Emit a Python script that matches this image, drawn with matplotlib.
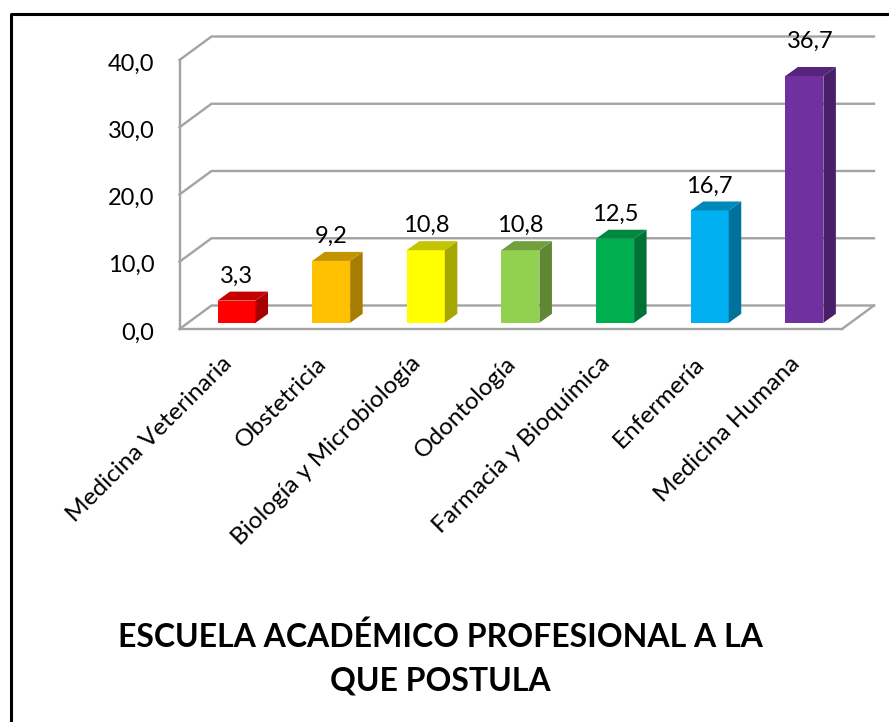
from __future__ import annotations

import matplotlib

matplotlib.use("Agg")
import matplotlib.pyplot as plt
import numpy as np
from matplotlib.colors import to_rgb
from matplotlib.lines import Line2D
from matplotlib.patches import Polygon
from matplotlib.transforms import ScaledTranslation

W, H = 889, 722

categories = [
    "Medicina Veterinaria",
    "Obstetricia",
    "Biología y Microbiología",
    "Odontología",
    "Farmacia y Bioquímica",
    "Enfermería",
    "Medicina Humana",
]
values = [3.3, 9.2, 10.8, 10.8, 12.5, 16.7, 36.7]
value_labels = ["3,3", "9,2", "10,8", "10,8", "12,5", "16,7", "36,7"]
colors = ["#FF0000", "#FFC000", "#FFFF00", "#92D050", "#00B050", "#00B0F0", "#7030A0"]
y_ticks = [0, 10, 20, 30, 40]
y_tick_labels = ["0,0", "10,0", "20,0", "30,0", "40,0"]
title_lines = ["ESCUELA ACADÉMICO PROFESIONAL A LA", "QUE POSTULA"]

GRID = "#A3A3A3"
FONT = "Lato"

# plot box in pixels: the front plane of the fake 3D chart
LEFT, RIGHT, BOTTOM, TOP = 179.5, 842, 329, 60
XMIN, XMAX = -0.5, 6.5
YMAX = 40
X_PER_PX = (XMAX - XMIN) / (RIGHT - LEFT)
Y_PER_PX = YMAX / (BOTTOM - TOP)


def shift(px_x: float, px_y: float) -> tuple[float, float]:
    return px_x * X_PER_PX, px_y * Y_PER_PX


def shade(color: str, k: float) -> tuple[float, float, float]:
    return tuple(c * k for c in to_rgb(color))


def draw_walls(ax: plt.Axes) -> None:
    dx, dy = shift(32, 23.5)
    for t in y_ticks:
        ax.plot([XMIN, XMIN + dx, XMAX + dx], [t, t + dy, t + dy],
                color=GRID, lw=1.7, clip_on=False, zorder=1, solid_joinstyle="miter")
    ax.plot([XMAX, XMAX + dx], [0, dy], color=GRID, lw=1.7, clip_on=False, zorder=1)


def draw_bars(ax: plt.Axes) -> None:
    off_x, off_y = shift(9.7, 6.2)
    dep_x, dep_y = shift(12.5, 9)
    width = 38 * X_PER_PX
    for i, (v, c) in enumerate(zip(values, colors)):
        x0 = i + off_x - width / 2
        x1 = x0 + width
        y0 = off_y
        y1 = v + off_y
        ax.bar(x0 + width / 2, v, width, bottom=y0, color=c, zorder=3, clip_on=False)
        ax.add_patch(Polygon(
            [(x1, y0), (x1 + dep_x, y0 + dep_y), (x1 + dep_x, y1 + dep_y), (x1, y1)],
            color=shade(c, 0.65), lw=0, zorder=3, clip_on=False))
        ax.add_patch(Polygon(
            [(x0, y1), (x0 + dep_x, y1 + dep_y), (x1 + dep_x, y1 + dep_y), (x1, y1)],
            color=shade(c, 0.77), lw=0, zorder=3, clip_on=False))
        # the tallest label sits higher and to the right in the original
        nudge = (6, 34.5) if i == len(values) - 1 else (0, 24.5)
        ax.annotate(value_labels[i], (x0 + width / 2, y1), xytext=(nudge[0] * 0.72, nudge[1] * 0.72),
                    textcoords="offset points", ha="center", va="center",
                    fontsize=17, family=FONT, color="black", zorder=5, annotation_clip=False)


def main() -> None:
    fig = plt.figure(figsize=(W / 100, H / 100), dpi=100)
    ax = fig.add_axes([LEFT / W, 1 - BOTTOM / H, (RIGHT - LEFT) / W, (BOTTOM - TOP) / H])
    ax.set_xlim(XMIN, XMAX)
    ax.set_ylim(0, YMAX)
    ax.patch.set_visible(False)

    for side in ("top", "right"):
        ax.spines[side].set_visible(False)
    for side in ("left", "bottom"):
        ax.spines[side].set_color(GRID)
        ax.spines[side].set_linewidth(1.7)

    ax.set_yticks(y_ticks)
    ax.set_yticklabels(y_tick_labels, fontsize=17, family=FONT)
    ax.tick_params(axis="y", length=0, pad=18)
    ax.set_xticks(np.arange(len(categories)))
    ax.set_xticklabels(categories, rotation=45, ha="right", va="top",
                       rotation_mode="anchor", fontsize=17.6, family=FONT)
    ax.tick_params(axis="x", length=0, pad=17)

    # nudge tick labels to where the original has them
    for lab in ax.get_yticklabels():
        lab.set_transform(lab.get_transform() + ScaledTranslation(0, -2 / 100, fig.dpi_scale_trans))
    for lab in ax.get_xticklabels():
        lab.set_transform(lab.get_transform() + ScaledTranslation(-6 / 100, 0, fig.dpi_scale_trans))

    draw_walls(ax)
    draw_bars(ax)

    fig.text(440.5 / W, 1 - 637 / H, title_lines[0], ha="center", va="center",
             fontsize=23, fontweight="bold", family=FONT)
    fig.text(440.5 / W, 1 - 681 / H, title_lines[1], ha="center", va="center",
             fontsize=23, fontweight="bold", family=FONT)

    # outer frame, runs off the right and bottom of the picture
    fig.add_artist(Line2D([10.5 / W, 10.5 / W, 1], [0, 1 - 14 / H, 1 - 14 / H], color="black", lw=2.2))

    fig.savefig("out.png", dpi=100)
    plt.close(fig)


if __name__ == "__main__":
    main()
